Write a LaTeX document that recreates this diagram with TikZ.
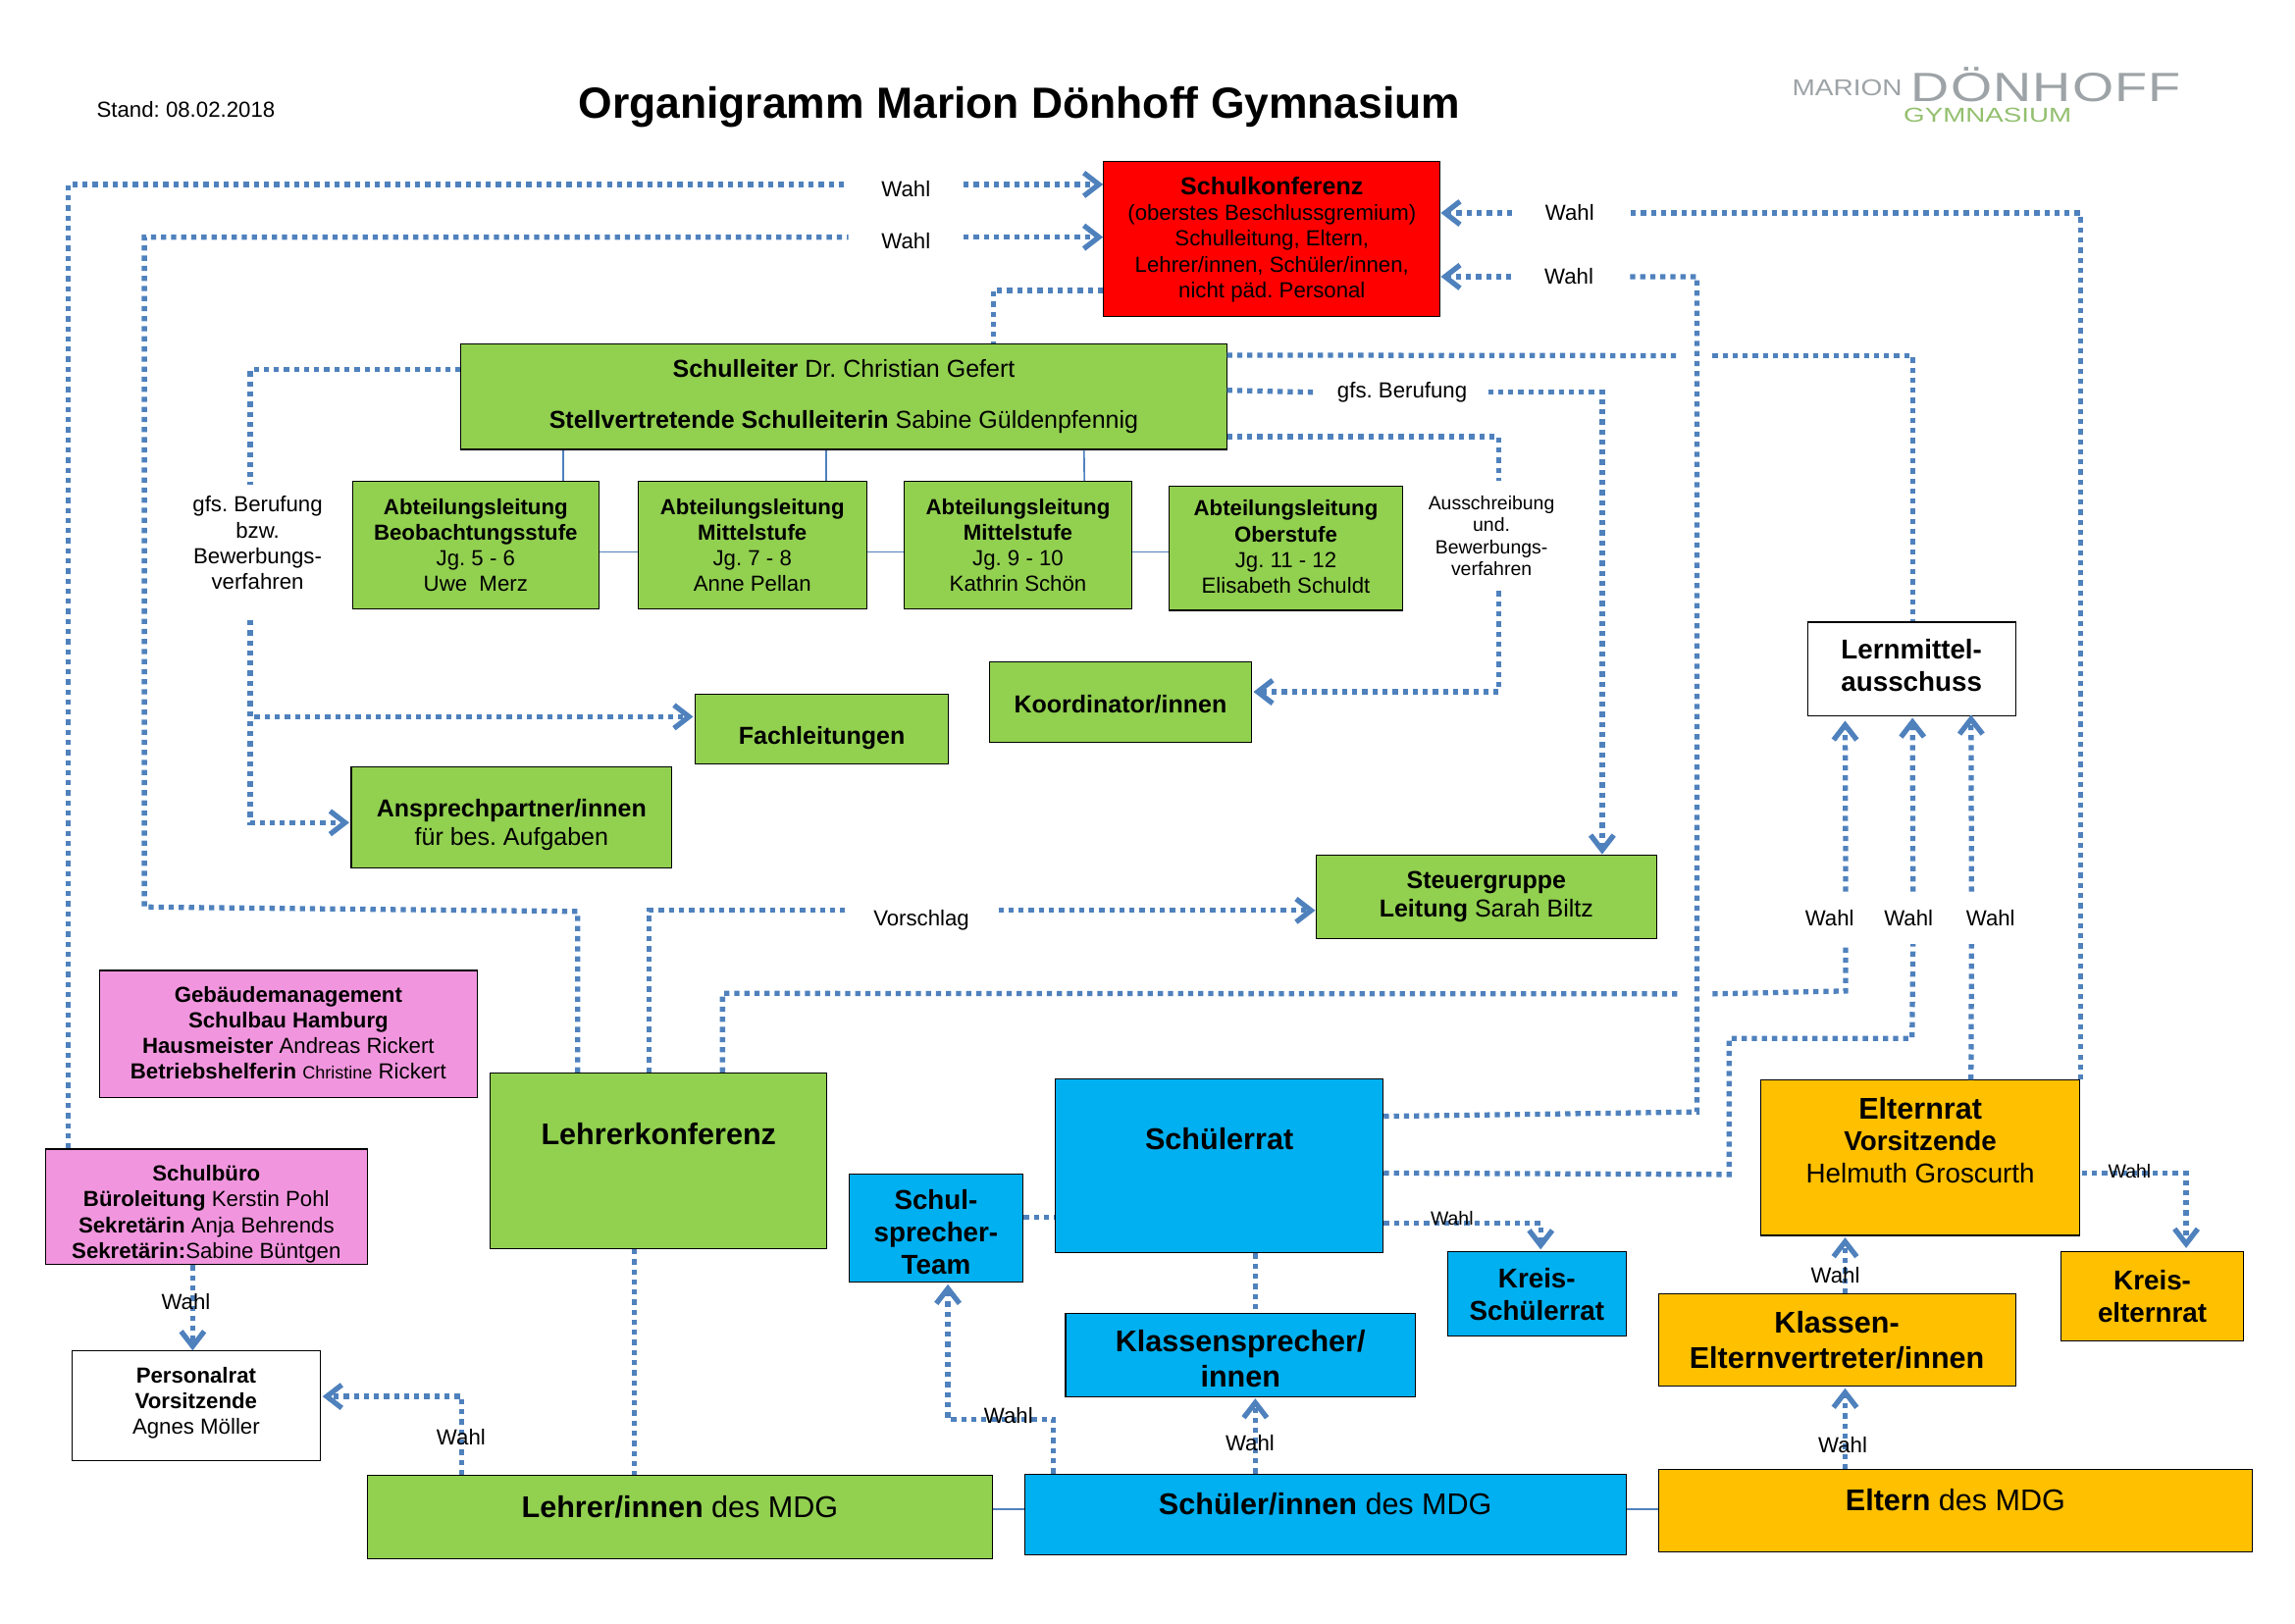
\documentclass[tikz,border=0pt]{standalone}
\usepackage{fontspec}
\setmainfont{Liberation Sans}
\AtBeginDocument{\frenchspacing}
\usetikzlibrary{calc,arrows.meta}
\definecolor{mdggreen}{HTML}{92D050}
\definecolor{mdgblue}{HTML}{00B0F0}
\definecolor{mdgorange}{HTML}{FFC000}
\definecolor{mdgpink}{HTML}{F196DE}
\definecolor{flowblue}{HTML}{4F81BD}
\definecolor{logogray}{HTML}{9DA3A6}
\definecolor{logogreen}{HTML}{93BF6E}
\newcommand{\fsize}[1]{\pgfmathsetmacro\fskip{1.18*#1}\fontsize{#1}{\fskip}\selectfont}
\newcommand{\headline}[1]{{\fontsize{9}{9.45}\selectfont\bfseries #1}}
\tikzset{
  % boxes of the chart: width and height are given in picture units
  box/.style={rectangle,draw=black,line width=.4pt,inner sep=0,align=center},
  size/.style 2 args={minimum width=#1*0.537pt,minimum height=#2*0.537pt},
  green box/.style={box,fill=mdggreen},
  blue box/.style={box,fill=mdgblue},
  orange box/.style={box,fill=mdgorange},
  pink box/.style={box,fill=mdgpink},
  white box/.style={box,fill=white},
  % connectors
  flow/.style={draw=flowblue,line width=1.9pt,dash pattern=on 1.9pt off 1.8pt},
  flow arrow/.style={flow,-{Straight Barb[length=5.5pt,width=8.5pt]}},
  link/.style={draw=flowblue,line width=.6pt},
  % labels on connectors
  wahl/.style={font=\fontsize{8}{9.45}\selectfont,inner sep=0},
  wahl gap/.style={wahl,inner xsep=12pt},
  wahl tall/.style={wahl,inner ysep=6.5pt}
}
\begin{document}
\begin{tikzpicture}[x=0.537pt,y=-0.537pt]
  \useasboundingbox (0,0) rectangle (1568,1108.8);
  % Head of the page
  \node (stand)[wahl] at (127,75) {Stand: 08.02.2018};
  \node (title)[font=\bfseries\fontsize{16}{19}\selectfont,inner sep=0] at (696.5,73) {Organigramm Marion Dönhoff Gymnasium};
  \node (logoA)[inner sep=0,text=logogray,font=\fontsize{8.4}{10}\selectfont\addfontfeatures{FakeStretch=1.2}] at (1262,60) {MARION};
  \node (logoB)[inner sep=0,text=logogray,font=\fontsize{15}{18}\selectfont\addfontfeatures{FakeStretch=1.3,LetterSpace=3}] at (1398,58) {DÖNHOFF};
  \node (logoC)[inner sep=0,text=logogreen,font=\fontsize{7.4}{9}\selectfont\addfontfeatures{FakeStretch=1.35}] at (1358,79) {GYMNASIUM};
  % School board and management
  \node (konferenz)[box,fill=red,size={230}{106},font=\fsize{8},text depth=1pt] at (869,163) {\headline{Schulkonferenz}\\(oberstes Beschlussgremium)\\Schulleitung, Eltern,\\Lehrer/innen, Schüler/innen,\\nicht päd. Personal};
  \node (leiter)[green box,size={523}{72},font=\fontsize{9}{9.45}\selectfont,text depth=2pt] at (576.5,271) {\textbf{Schulleiter} Dr. Christian Gefert\\[9.45pt]\textbf{Stellvertretende Schulleiterin} Sabine Güldenpfennig};
  \node (abt1)[green box,size={168}{87},font=\fsize{8}] at (325,372.5) {\textbf{Abteilungsleitung}\\\textbf{Beobachtungsstufe}\\Jg. 5 - 6\\Uwe\ \ Merz};
  \node (abt2)[green box,size={156}{87},font=\fsize{8}] at (514,372.5) {\textbf{Abteilungsleitung}\\\textbf{Mittelstufe}\\Jg. 7 - 8\\Anne Pellan};
  \node (abt3)[green box,size={155.5}{87},font=\fsize{8}] at (695.5,372.5) {\textbf{Abteilungsleitung}\\\textbf{Mittelstufe}\\Jg. 9 - 10\\Kathrin Schön};
  \node (abt4)[green box,size={159}{85},font=\fsize{8},text depth=1pt] at (878.5,374.5) {\textbf{Abteilungsleitung}\\\textbf{Oberstufe}\\Jg. 11 - 12\\Elisabeth Schuldt};
  \node (fach)[green box,size={173}{48},font=\bfseries\fsize{9},text height=13pt] at (561.5,498) {Fachleitungen};
  \node (koord)[green box,size={179}{55},font=\bfseries\fsize{9},text height=8.5pt] at (765.5,479.5) {Koordinator/innen};
  \node (anspr)[green box,size={219}{69},font=\fsize{9}] at (349.5,558.5) {\rule{0pt}{12pt}\textbf{Ansprechpartner/innen}\\für bes. Aufgaben};
  \node (steuer)[green box,size={233}{57},font=\fsize{9}] at (1015.5,612.5) {\textbf{Steuergruppe}\\\textbf{Leitung} Sarah Biltz};
  \node (lern)[white box,size={142}{64},font=\bfseries\fsize{10},text depth=3pt] at (1306,457) {Lernmittel-\\ausschuss};
  % Staff
  \node (gebaeude)[pink box,size={258}{87},font=\fsize{8},text depth=1pt] at (197,706.5) {\textbf{Gebäudemanagement}\\\textbf{Schulbau Hamburg}\\\textbf{Hausmeister} Andreas Rickert\\\textbf{Betriebshelferin} {\fontsize{6.5}{8}\selectfont Christine} Rickert};
  \node (buero)[pink box,size={220}{79},font=\fsize{8}] at (141,824.5) {\rule{0pt}{11pt}\textbf{Schulbüro}\\\textbf{Büroleitung} Kerstin Pohl\\\textbf{Sekretärin} Anja Behrends\\\textbf{Sekretärin:}Sabine Büntgen};
  \node (personalrat)[white box,size={170}{75},font=\fsize{8},text depth=4pt] at (134,960.5) {\textbf{Personalrat}\\\textbf{Vorsitzende}\\Agnes Möller};
  \node (lk)[green box,size={230}{120},font=\bfseries\fsize{11},text depth=20pt] at (450,793) {Lehrerkonferenz};
  % Pupils
  \node (schuelerrat)[blue box,size={224}{119},font=\bfseries\fsize{11},text depth=20pt] at (833,796.5) {Schülerrat};
  \node (sprecher)[blue box,size={119}{74},font=\bfseries\fsize{10}] at (639.5,839) {\rule{0pt}{10pt}Schul-\\sprecher-\\Team};
  \node (klassenS)[blue box,size={239}{57},font=\bfseries\fsize{11}] at (847.5,925.5) {\rule{0pt}{11pt}Klassensprecher/\\innen};
  \node (kreisS)[blue box,size={122}{58},font=\bfseries\fsize{10}] at (1050,884) {Kreis-\\Schülerrat};
  % Parents
  \node (elternrat)[orange box,size={218}{106},font=\bfseries\fsize{10},text depth=13pt] at (1312,791) {{\fsize{11}Elternrat}\\Vorsitzende\\\mdseries Helmuth Groscurth};
  \node (kreisE)[orange box,size={125}{61},font=\bfseries\fsize{10}] at (1470.5,885.5) {Kreis-\\elternrat};
  \node (klassenE)[orange box,size={244}{63},font=\bfseries\fsize{11}] at (1255,915.5) {Klassen-\\Elternvertreter/innen};
  % Base of the chart
  \node (lehrer)[green box,size={427}{57},font=\fsize{11},text depth=8pt] at (464.5,1036.5) {\textbf{Lehrer/innen} des MDG};
  \node (schueler)[blue box,size={411}{55},font=\fsize{11},text depth=8pt] at (905.5,1034.5) {\textbf{Schüler/innen} des MDG};
  \node (eltern)[orange box,size={406}{56},font=\fsize{11},text depth=8pt] at (1336,1032) {\textbf{Eltern} des MDG};
  % Labels that interrupt a connector
  \node (wahlA)[wahl gap,text height=8.9pt] at (619,126) {Wahl};
  \node (wahlB)[wahl gap,text height=8.9pt] at (619,162) {Wahl};
  \node (wahlC)[wahl gap] at (1072.5,145.5) {Wahl};
  \node (wahlD)[wahl gap] at (1072,189) {Wahl};
  \node (gfsR)[wahl,inner xsep=7.5pt] at (958,268) {gfs. Berufung};
  \node (gfsL)[wahl,align=center,inner ysep=4pt] at (176,371) {gfs. Berufung\\bzw.\\Bewerbungs-\\verfahren};
  \node (ausschr)[inner sep=0,inner ysep=5.4pt,align=center,font=\fontsize{7}{8.1}\selectfont] at (1019,366) {Ausschreibung\\und.\\Bewerbungs-\\verfahren};
  \node (vorschlag)[wahl,inner xsep=10.5pt,text height=13.2pt,text depth=1.7pt] at (629.5,622) {Vorschlag};
  \node (wahlK)[wahl tall] at (1250,627) {Wahl};
  \node (wahlL)[wahl tall] at (1304,627) {Wahl};
  \node (wahlM)[wahl tall] at (1360,627) {Wahl};
  % Where a connector jumps over another one
  \coordinate (jumpA) at (1148,243);
  \coordinate (jumpB) at (1170,243);
  \coordinate (jumpC) at (1147,679);
  \coordinate (jumpD) at (1170,679);
  % Solid links
  \draw[link] ($(leiter.south west)+(70,0)$) -- ($(abt1.north west)+(144,0)$);
  \draw[link] ($(leiter.south west)+(250,0)$) -- ($(abt2.north west)+(129,0)$);
  \draw[link] ($(leiter.south west)+(426,0)$) -- ($(abt3.north west)+(123.5,0)$);
  \draw[link] ($(abt1.east)+(0,4.5)$) -- ($(abt2.west)+(0,4.5)$);
  \draw[link] ($(abt2.east)+(0,4.5)$) -- ($(abt3.west)+(0,4.5)$);
  \draw[link] ($(abt3.east)+(0,4.5)$) -- ($(abt4.west)+(0,2.5)$);
  \draw[link] ($(lehrer.east)+(0,-5.5)$) -- ($(schueler.west)+(0,-3.5)$);
  \draw[link] ($(schueler.east)+(0,-3.5)$) -- ($(eltern.west)+(0,-1)$);
  % Elections into the Schulkonferenz
  \draw[flow] ($(buero.north west)+(16,0)$) |- (wahlA.west);
  \draw[flow arrow] (wahlA.east) -- (konferenz.west |- wahlA.east);
  \draw[flow] ($(lk.north west)+(60,0)$) -- ++(0,-110) -- ++(-296,-3) |- (wahlB.west);
  \draw[flow arrow] (wahlB.east) -- (konferenz.west |- wahlB.east);
  \draw[flow] (elternrat.north east) |- (wahlC.east);
  \draw[flow arrow] (wahlC.west) -- (konferenz.east |- wahlC.west);
  \draw[flow] ($(schuelerrat.north east)+(0,26)$) -- ++(214,-3) |- (wahlD.east);
  \draw[flow arrow] (wahlD.west) -- (konferenz.east |- wahlD.west);
  \draw[flow] ($(konferenz.south west)+(0,-18)$) -| ($(leiter.north west)+(364,0)$);
  % Appointments by the Schulleitung
  \draw[flow] ($(leiter.north west)+(0,18)$) -| ($(gfsL.north)+(-5,0)$);
  \draw[flow arrow] ($(gfsL.south)+(-5,13)$) |- ($(anspr.west)+(-1,3.5)$);
  \draw[flow arrow] ($(gfsL.south)+(-5,13)$) |- ($(fach.north west)+(-1,16)$);
  \draw[flow] ($(leiter.north east)+(0,8)$) -- (jumpA);
  \draw[flow] (jumpB) -| ($(lern.north west)+(72,0)$);
  \draw[flow] ($(leiter.north east)+(0,32)$) -- (gfsR.west);
  \draw[flow arrow] (gfsR.east) -| ($(steuer.north west)+(196,0)$);
  \draw[flow] ($(leiter.south east)+(0,-9)$) -| ($(ausschr.north)+(5,0)$);
  \draw[flow arrow] ($(ausschr.south)+(5,0)$) |- ($(koord.north east)+(1,21)$);
  % Lehrerkonferenz
  \draw[flow] ($(lk.north west)+(109,0)$) |- (vorschlag.west);
  \draw[flow arrow] (vorschlag.east) -- (steuer.west |- vorschlag.east);
  \draw[flow] ($(lk.north west)+(159,0)$) -- ++(0,-54) -- (jumpC);
  \draw[flow] (jumpD) -- ++(91,-2) -- ($(wahlK.south)+(11,0)$);
  \draw[flow arrow] ($(wahlK.north)+(11,0)$) -- ($(lern.south west)+(26,3)$);
  \draw[flow] ($(lk.south west)+(99,0)$) -- ($(lehrer.north west)+(183,0)$);
  % Lernmittelausschuss
  \draw[flow] ($(schuelerrat.south east)+(0,-55)$) -- ++(236,1) -- ++(0,-93) -- ++(125,0) -- ($(wahlL.south)+(3,0)$);
  \draw[flow arrow] ($(wahlL.north)+(3,0)$) -- ($(lern.south west)+(72,1)$);
  \draw[flow] ($(elternrat.north west)+(144,0)$) -- ($(wahlM.south)+(-13,0)$);
  \draw[flow arrow] ($(wahlM.north)+(-13,0)$) -- ($(lern.south west)+(112,-1)$);
  % Elections at the bottom
  \draw[flow] ($(sprecher.north east)+(0,30)$) -- ($(schuelerrat.north west)+(0,95)$);
  \draw[flow arrow] ($(schuelerrat.south east)+(0,-21)$) -| ($(kreisS.north west)+(64,-1)$);
  \draw[flow] ($(schuelerrat.south west)+(137,0)$) -- ($(klassenS.north west)+(130,0)$);
  \draw[flow arrow] ($(schueler.north west)+(158,0)$) -- ($(klassenS.south west)+(130,1)$);
  \draw[flow arrow] ($(schueler.north west)+(20,0)$) -- ++(0,-37) -| ($(sprecher.south west)+(68,1)$);
  \draw[flow arrow] ($(lehrer.north west)+(65,0)$) |- ($(personalrat.east)+(1,-6.5)$);
  \draw[flow arrow] ($(buero.south west)+(101,0)$) -- ($(personalrat.north west)+(83,0)$);
  \draw[flow arrow] ($(klassenE.north west)+(128,0)$) -- ($(elternrat.south west)+(58,1)$);
  \draw[flow arrow] ($(eltern.north west)+(128,0)$) -- ($(klassenE.south west)+(128,1)$);
  \draw[flow arrow] ($(elternrat.north east)+(1,64)$) -| ($(kreisE.north west)+(86,-2)$);
  % Labels lying on a connector
  \node (wahlN)[wahl] at (127,889) {Wahl};
  \node (wahlO)[wahl] at (315,982) {Wahl};
  \node (wahlP)[wahl] at (689,967) {Wahl};
  \node (wahlQ)[wahl] at (854,986) {Wahl};
  \node (wahlR)[wahl,font=\fontsize{7}{8}\selectfont] at (992,832) {Wahl};
  \node (wahlS)[wahl,font=\fontsize{7}{8}\selectfont] at (1455,800) {Wahl};
  \node (wahlT)[wahl] at (1254,871) {Wahl};
  \node (wahlU)[wahl] at (1259,987) {Wahl};
\end{tikzpicture}
\end{document}
